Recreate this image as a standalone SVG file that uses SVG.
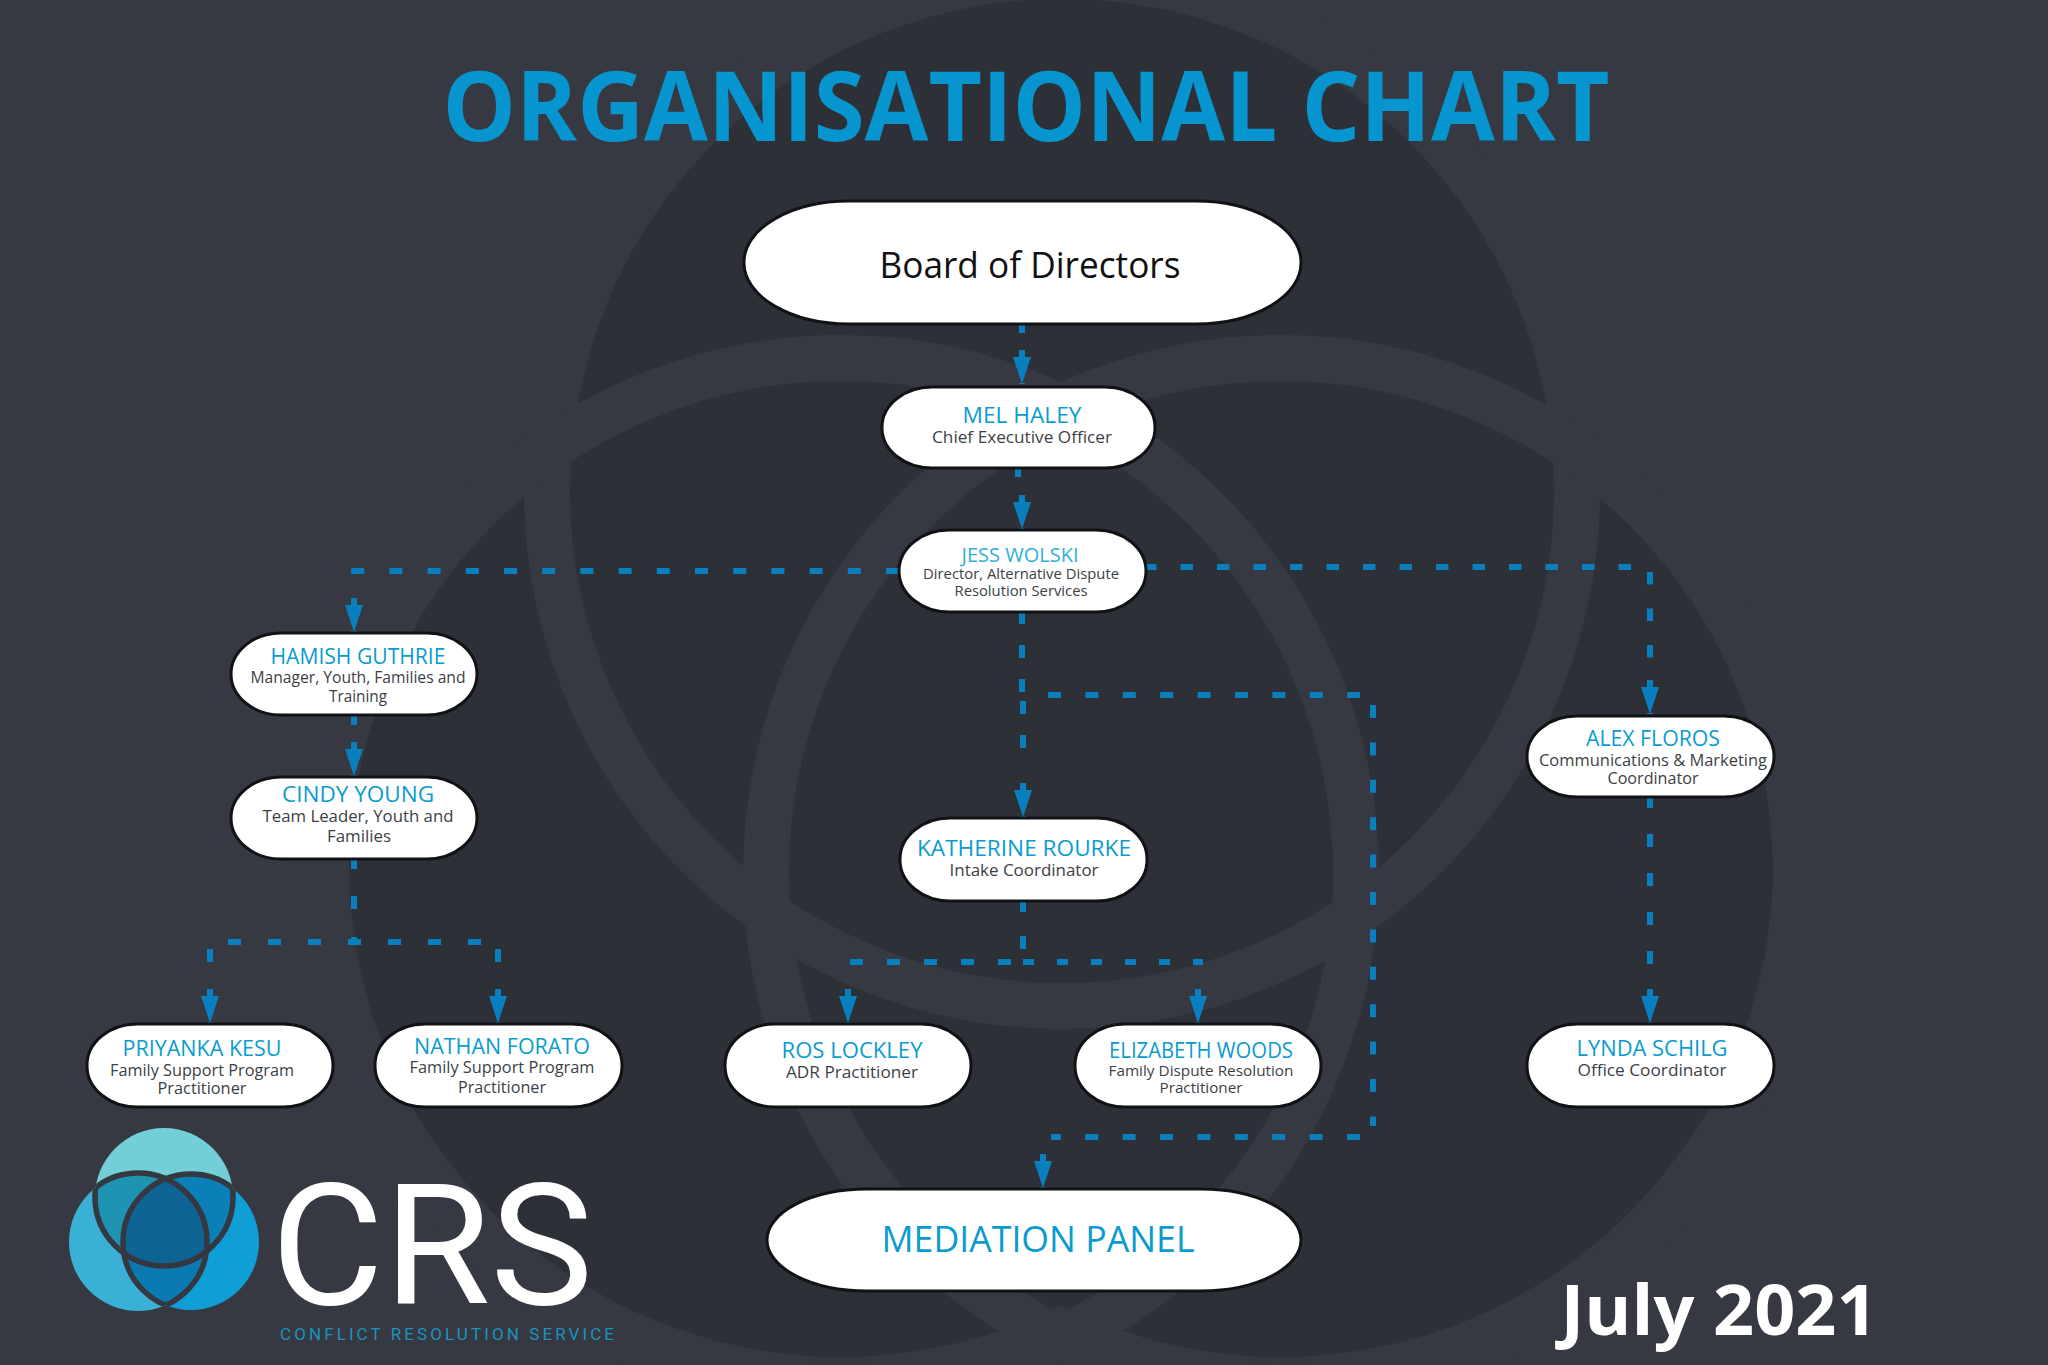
<svg xmlns="http://www.w3.org/2000/svg" width="2048" height="1365" viewBox="0 0 2048 1365">
<style>
text{font-family:"Open Sans","Noto Sans","Liberation Sans",sans-serif;text-anchor:middle}
.box{fill:#fff;stroke:#111216;stroke-width:3}
.n{fill:#0a9bd0;font-size:22px}
.n2{fill:#0a9bd0;font-size:21px}
.r{fill:#3c3f46;font-size:16px}
.r2{fill:#3c3f46;font-size:15px}
.c{fill:none;stroke:#0a7fbf;stroke-width:6;stroke-dasharray:13 26}
.d{fill:#2e3037}
.w{fill:none;stroke:#363941;stroke-width:46}
.lr{fill:none;stroke:#353840;stroke-width:5.5}
.logo{font-family:Roboto,"Liberation Sans",sans-serif}
</style>
<defs>
<marker id="a" markerUnits="userSpaceOnUse" markerWidth="20" markerHeight="36" viewBox="0 0 20 36" refX="10" refY="34" orient="0"><path d="M7 0H13V7H19L10 34L1 7H7Z" fill="#0a7fbf"/></marker>
<clipPath id="ct"><circle cx="164" cy="1197" r="69"/></clipPath>
<clipPath id="cl"><circle cx="138" cy="1242" r="69"/></clipPath>
<clipPath id="cr"><circle cx="191" cy="1242" r="68"/></clipPath>
<clipPath id="clr"><path d="M69 1242a69 69 0 1 0 138 0a69 69 0 1 0-138 0ZM123 1242a68 68 0 1 0 136 0a68 68 0 1 0-136 0Z"/></clipPath>
<clipPath id="ctr"><path d="M95 1197a69 69 0 1 0 138 0a69 69 0 1 0-138 0ZM123 1242a68 68 0 1 0 136 0a68 68 0 1 0-136 0Z"/></clipPath>
<clipPath id="ctl"><path d="M95 1197a69 69 0 1 0 138 0a69 69 0 1 0-138 0ZM69 1242a69 69 0 1 0 138 0a69 69 0 1 0-138 0Z"/></clipPath>
</defs>
<rect width="2048" height="1365" fill="#363941"/>
<g id="watermark">
<circle class="d" cx="1062" cy="487" r="492"/><circle class="d" cx="841" cy="865" r="492"/><circle class="d" cx="1281" cy="865" r="492"/>
<circle class="w" cx="1062" cy="491" r="515"/><circle class="w" cx="841" cy="873" r="515"/><circle class="w" cx="1281" cy="873" r="515"/>
</g>
<text x="1026" y="141" font-size="97" font-weight="700" fill="#0795cf" textLength="1167" lengthAdjust="spacingAndGlyphs">ORGANISATIONAL CHART</text>
<g id="connectors">
<path class="c" d="M1022 320V333M1022 383V384" marker-end="url(#a)"/>
<path class="c" d="M1018 465V477M1022 528V529" marker-end="url(#a)"/>
<path class="c" style="stroke-dasharray:13 25.2" d="M899 571H351M354 631V632" marker-end="url(#a)"/>
<path class="c" style="stroke-dasharray:12.5 24" d="M1144 567H1631M1650 572V658M1650 713V714" marker-end="url(#a)"/>
<path class="c" style="stroke-dasharray:13 21" d="M1022 611V694M1023 701V762M1023 816V817" marker-end="url(#a)"/>
<path class="c" style="stroke-dasharray:13 24.4" d="M1048 695H1360M1373 705V1126M1360 1137H1051M1043 1187V1188" marker-end="url(#a)"/>
<path class="c" d="M354 714V725M354 775V776" marker-end="url(#a)"/>
<path class="c" style="stroke-dasharray:13 27" d="M354 856V910M228 942H482M354 937V945M210 949V963M210 1022V1023" marker-end="url(#a)"/>
<path class="c" style="stroke-dasharray:13 27" d="M498 949V963M498 1022V1023" marker-end="url(#a)"/>
<path class="c" style="stroke-dasharray:13 24" d="M1023 899V949M1011 962H846M848 1022V1023" marker-end="url(#a)"/>
<path class="c" style="stroke-dasharray:11 23" d="M1023 962H1203M1198 1022V1023" marker-end="url(#a)"/>
<path class="c" d="M1650 795V965M1650 1022V1023" marker-end="url(#a)"/>
</g>
<g id="board"><rect class="box" x="744" y="201" width="557" height="123" rx="105" ry="61"/><text x="1030" y="278" font-size="37" fill="#111" textLength="301" lengthAdjust="spacingAndGlyphs">Board of Directors</text></g>
<g id="mel"><rect class="box" x="882" y="387" width="273" height="81" rx="50" ry="40"/><text class="n" x="1022" y="423" textLength="119" lengthAdjust="spacingAndGlyphs">MEL HALEY</text><text class="r" x="1022" y="443" textLength="180" lengthAdjust="spacingAndGlyphs">Chief Executive Officer</text></g>
<g id="jess"><rect class="box" x="899" y="530" width="247" height="82" rx="50" ry="41"/><text class="n2" style="fill:#2fb0d8;font-size:20px" x="1020" y="562" textLength="117" lengthAdjust="spacingAndGlyphs">JESS WOLSKI</text><text class="r2" x="1021" y="579" textLength="196" lengthAdjust="spacingAndGlyphs">Director, Alternative Dispute</text><text class="r2" x="1021" y="596" textLength="133" lengthAdjust="spacingAndGlyphs">Resolution Services</text></g>
<g id="hamish"><rect class="box" x="231" y="633" width="246" height="82" rx="50" ry="41"/><text class="n2" x="358" y="664" textLength="175" lengthAdjust="spacingAndGlyphs">HAMISH GUTHRIE</text><text class="r" x="358" y="683" textLength="215" lengthAdjust="spacingAndGlyphs">Manager, Youth, Families and</text><text class="r" x="358" y="702" textLength="58" lengthAdjust="spacingAndGlyphs">Training</text></g>
<g id="cindy"><rect class="box" x="231" y="777" width="246" height="82" rx="50" ry="41"/><text class="n" x="358" y="802" textLength="152" lengthAdjust="spacingAndGlyphs">CINDY YOUNG</text><text class="r" x="358" y="822" textLength="191" lengthAdjust="spacingAndGlyphs">Team Leader, Youth and</text><text class="r" x="359" y="842" textLength="64" lengthAdjust="spacingAndGlyphs">Families</text></g>
<g id="alex"><rect class="box" x="1527" y="716" width="247" height="81" rx="50" ry="40"/><text class="n2" x="1653" y="746" textLength="134" lengthAdjust="spacingAndGlyphs">ALEX FLOROS</text><text class="r" x="1653" y="766" textLength="228" lengthAdjust="spacingAndGlyphs">Communications &amp; Marketing</text><text class="r" x="1653" y="784" textLength="91" lengthAdjust="spacingAndGlyphs">Coordinator</text></g>
<g id="katherine"><rect class="box" x="900" y="818" width="247" height="83" rx="50" ry="41"/><text class="n" x="1024" y="856" textLength="214" lengthAdjust="spacingAndGlyphs">KATHERINE ROURKE</text><text class="r" x="1024" y="876" textLength="149" lengthAdjust="spacingAndGlyphs">Intake Coordinator</text></g>
<g id="priyanka"><rect class="box" x="87" y="1024" width="246" height="83" rx="50" ry="41"/><text class="n" x="202" y="1056" textLength="159" lengthAdjust="spacingAndGlyphs">PRIYANKA KESU</text><text class="r" x="202" y="1076" textLength="184" lengthAdjust="spacingAndGlyphs">Family Support Program</text><text class="r" x="202" y="1094" textLength="89" lengthAdjust="spacingAndGlyphs">Practitioner</text></g>
<g id="nathan"><rect class="box" x="375" y="1024" width="247" height="83" rx="50" ry="41"/><text class="n" x="502" y="1054" textLength="176" lengthAdjust="spacingAndGlyphs">NATHAN FORATO</text><text class="r" x="502" y="1073" textLength="185" lengthAdjust="spacingAndGlyphs">Family Support Program</text><text class="r" x="502" y="1093" textLength="88" lengthAdjust="spacingAndGlyphs">Practitioner</text></g>
<g id="ros"><rect class="box" x="725" y="1024" width="246" height="83" rx="50" ry="41"/><text class="n" x="852" y="1058" textLength="141" lengthAdjust="spacingAndGlyphs">ROS LOCKLEY</text><text class="r" x="852" y="1078" textLength="132" lengthAdjust="spacingAndGlyphs">ADR Practitioner</text></g>
<g id="elizabeth"><rect class="box" x="1075" y="1024" width="246" height="83" rx="50" ry="41"/><text class="n2" x="1201" y="1058" textLength="184" lengthAdjust="spacingAndGlyphs">ELIZABETH WOODS</text><text class="r2" x="1201" y="1076" textLength="185" lengthAdjust="spacingAndGlyphs">Family Dispute Resolution</text><text class="r2" x="1201" y="1093" textLength="83" lengthAdjust="spacingAndGlyphs">Practitioner</text></g>
<g id="lynda"><rect class="box" x="1527" y="1024" width="247" height="83" rx="50" ry="41"/><text class="n" x="1652" y="1056" textLength="151" lengthAdjust="spacingAndGlyphs">LYNDA SCHILG</text><text class="r" x="1652" y="1076" textLength="149" lengthAdjust="spacingAndGlyphs">Office Coordinator</text></g>
<g id="mediation"><rect class="box" x="767" y="1189" width="534" height="102" rx="100" ry="51"/><text class="n" style="font-size:36px" x="1038" y="1252" textLength="313" lengthAdjust="spacingAndGlyphs">MEDIATION PANEL</text></g>
<g id="logo">
<circle cx="164" cy="1197" r="69" fill="#72cfd8"/><circle cx="138" cy="1242" r="69" fill="#3bb0d6"/><circle cx="191" cy="1242" r="68" fill="#0f9fd6"/>
<g clip-path="url(#ct)"><rect x="60" y="1120" width="210" height="200" fill="#1e93b2" clip-path="url(#cl)"/><rect x="60" y="1120" width="210" height="200" fill="#0b7fb8" clip-path="url(#cr)"/></g>
<g clip-path="url(#cl)"><rect x="60" y="1120" width="210" height="200" fill="#0b7ab3" clip-path="url(#cr)"/></g>
<g clip-path="url(#ct)"><g clip-path="url(#cl)"><rect x="60" y="1120" width="210" height="200" fill="#0e6595" clip-path="url(#cr)"/></g></g>
<circle class="lr" cx="164" cy="1197" r="69" clip-path="url(#clr)"/><circle class="lr" cx="138" cy="1242" r="69" clip-path="url(#ctr)"/><circle class="lr" cx="191" cy="1242" r="68" clip-path="url(#ctl)"/>
<text class="logo" x="432" y="1304" font-size="168" font-weight="400" fill="#fff" textLength="322" lengthAdjust="spacingAndGlyphs">CRS</text>
<text class="logo" x="447" y="1340" font-size="17" fill="#1b93bd" textLength="334" lengthAdjust="spacing">CONFLICT RESOLUTION SERVICE</text>
</g>
<text x="1719" y="1335" font-size="70" font-weight="700" fill="#fff" textLength="317" lengthAdjust="spacingAndGlyphs">July 2021</text>
</svg>
